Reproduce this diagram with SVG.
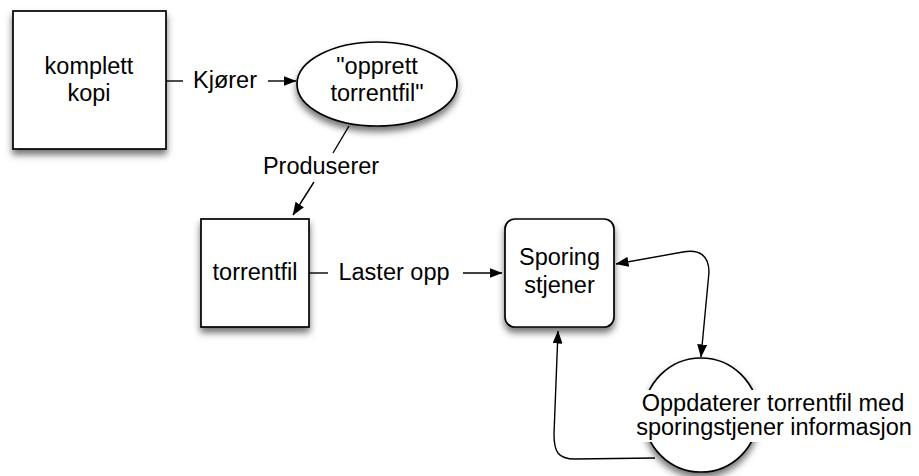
<svg xmlns="http://www.w3.org/2000/svg" width="919" height="476" viewBox="0 0 919 476">
<style>
.shape{fill:#fff;stroke:#000;stroke-width:1.7}
.lbl{font-family:"Liberation Sans",Arial,sans-serif;font-size:23.5px;fill:#000;text-anchor:middle}
.conn{fill:none;stroke:#000;stroke-width:1.4}
</style>
<defs>
<filter id="sh" x="-20%" y="-20%" width="140%" height="150%">
<feDropShadow dx="0" dy="5" stdDeviation="3.5" flood-color="#000" flood-opacity="0.55"/>
</filter>
<marker id="ah" viewBox="0 0 13 10" refX="12.5" refY="5" markerWidth="13" markerHeight="10" markerUnits="userSpaceOnUse" orient="auto-start-reverse">
<path d="M0,0 L13,5 L0,10 z" fill="#000"/>
</marker>
</defs>
<rect width="919" height="476" fill="#fff"/>

<g id="connectors">
<line class="conn" x1="166" y1="81" x2="183" y2="81"/>
<line class="conn" x1="268" y1="81" x2="296" y2="81" marker-end="url(#ah)"/>
<line class="conn" x1="349" y1="126" x2="333" y2="153"/>
<line class="conn" x1="314" y1="182" x2="293" y2="215" marker-end="url(#ah)"/>
<line class="conn" x1="309" y1="273" x2="328" y2="273"/>
<line class="conn" x1="463" y1="273" x2="502" y2="273" marker-end="url(#ah)"/>
<path class="conn" d="M616,264 L683,252 C700,249 709,256 709,272 L701,357" marker-start="url(#ah)" marker-end="url(#ah)"/>
<path class="conn" d="M655,458 L575,459 C558,459 554,452 554,434 L558,331" marker-end="url(#ah)"/>
</g>

<g id="komplett-kopi">
<rect class="shape" x="13" y="11" width="153" height="138" filter="url(#sh)"/>
<text class="lbl" x="89" y="74">komplett</text>
<text class="lbl" x="89" y="101">kopi</text>
</g>

<g id="kjorer-label">
<text class="lbl" x="225" y="88">Kjører</text>
</g>

<g id="opprett-torrentfil">
<ellipse class="shape" cx="377" cy="84" rx="80" ry="42" filter="url(#sh)"/>
<text class="lbl" x="377" y="74">"opprett</text>
<text class="lbl" x="377" y="101">torrentfil"</text>
</g>

<g id="produserer-label">
<text class="lbl" x="321" y="174">Produserer</text>
</g>

<g id="torrentfil">
<rect class="shape" x="201" y="219" width="108" height="108" filter="url(#sh)"/>
<text class="lbl" x="255" y="280">torrentfil</text>
</g>

<g id="laster-opp-label">
<text class="lbl" x="394" y="280">Laster opp</text>
</g>

<g id="sporing-stjener">
<rect class="shape" x="505" y="219" width="109" height="108" rx="10" ry="10" filter="url(#sh)"/>
<text class="lbl" x="559.5" y="265">Sporing</text>
<text class="lbl" x="559.5" y="293">stjener</text>
</g>

<g id="oppdaterer">
<circle class="shape" cx="701" cy="415" r="57" filter="url(#sh)"/>
<rect x="634" y="390" width="281" height="52" fill="#fff"/>
<text class="lbl" x="773" y="411">Oppdaterer torrentfil med</text>
<text class="lbl" x="774" y="435">sporingstjener informasjon</text>
</g>
</svg>
